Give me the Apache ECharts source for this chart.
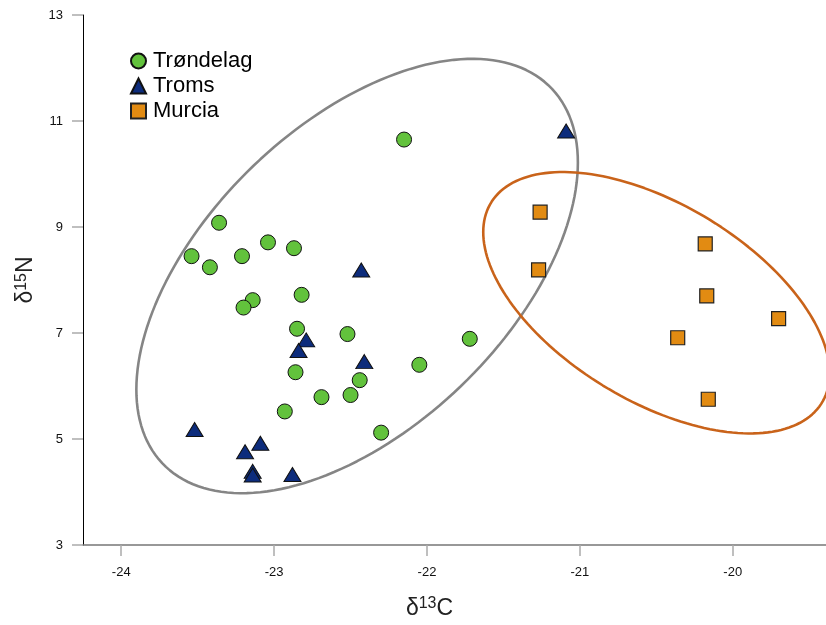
<!DOCTYPE html>
<html>
<head>
<meta charset="utf-8">
<script src="https://cdn.jsdelivr.net/npm/echarts@6/dist/echarts.min.js"></script>
<style>
html,body{margin:0;padding:0;background:#fff;}
#chart{width:826px;height:625px;}
</style>
</head>
<body>
<div id="chart"></div>
<script>
// ---- data ----
var seriesNames = ['Trøndelag', 'Troms', 'Murcia'];
var xTicks = [-24, -23, -22, -21, -20];
var yTicks = [3, 5, 7, 9, 11, 13];

var trondelagX = [-23.36, -23.54, -23.42, -23.21, -23.04, -22.87, -22.82, -23.14, -23.20, -22.85,
                  -22.52, -22.86, -22.44, -22.50, -22.69, -22.93, -22.30, -22.15, -22.05, -21.72];
var trondelagY = [9.08, 8.45, 8.24, 8.45, 8.71, 8.60, 7.72, 7.62, 7.48, 7.08,
                  6.98, 6.26, 6.11, 5.83, 5.79, 5.52, 5.12, 10.65, 6.40, 6.89];

var tromsX = [-22.43, -22.79, -22.84, -22.41, -23.52, -23.09, -23.19, -23.14, -23.14, -22.88, -21.09];
var tromsY = [8.19, 6.87, 6.67, 6.46, 5.18, 4.92, 4.76, 4.39, 4.32, 4.33, 10.81];

var murciaX = [-21.26, -21.27, -20.18, -20.17, -19.70, -20.36, -20.16];
var murciaY = [9.28, 8.19, 8.68, 7.70, 7.27, 6.91, 5.75];

// ellipse parameters: centre x, centre y, x half-range, y half-range, phase (degrees)
var ellipseGray = [-22.457, 8.075, 1.444, 4.098, 58.5];
var ellipseOrange = [-20.499, 7.571, 1.133, 2.466, 122.7];

// ---- helpers ----
function pairs(xs, ys) {
  return xs.map(function (x, i) { return [x, ys[i]]; });
}
function ellipsePoints(p) {
  var pts = [], n = 180, phi = p[4] * Math.PI / 180;
  for (var i = 0; i <= n; i++) {
    var t = 2 * Math.PI * i / n;
    pts.push([p[0] + p[2] * Math.cos(t), p[1] + p[3] * Math.cos(t - phi)]);
  }
  return pts;
}

var chart = echarts.init(document.getElementById('chart'), null, {renderer: 'canvas'});
var font = 'Liberation Sans, Arial, Helvetica, sans-serif';

var option = {
  backgroundColor: '#ffffff',
  animation: false,
  textStyle: {fontFamily: font},
  grid: {left: 83, right: 0, top: 15, bottom: 79, containLabel: false},
  legend: {
    data: seriesNames,
    orient: 'vertical',
    left: 130,
    top: 50,
    padding: 0,
    itemWidth: 15,
    itemHeight: 15,
    itemGap: 3,
    textStyle: {fontSize: 22, color: '#000', fontFamily: font, padding: [0, 0, 0, 2]}
  },
  xAxis: {
    type: 'value',
    min: -24.25,
    max: -19.39,
    name: '{n|δ}{s|13}{n|C}',
    nameLocation: 'middle',
    nameGap: 51,
    nameTextStyle: {
      padding: [0, 50, 0, 0],
      rich: {
        n: {fontSize: 23, color: '#222', fontFamily: font},
        s: {fontSize: 16, color: '#222', fontFamily: font, padding: [0, 0, 9, 0]}
      }
    },
    axisLine: {show: true, onZero: false, lineStyle: {color: '#777', width: 1.5}},
    axisTick: {show: true, length: 11, customValues: xTicks, lineStyle: {color: '#aaa', width: 1.5}},
    axisLabel: {customValues: xTicks, margin: 21, fontSize: 13, color: '#111', fontFamily: font},
    splitLine: {show: false}
  },
  yAxis: {
    type: 'value',
    min: 3,
    max: 13,
    interval: 2,
    name: '{n|δ}{s|15}{n|N}',
    nameLocation: 'middle',
    nameGap: 42,
    nameRotate: 90,
    nameTextStyle: {
      rich: {
        n: {fontSize: 23, color: '#222', fontFamily: font},
        s: {fontSize: 16, color: '#222', fontFamily: font, padding: [0, 0, 9, 0]}
      }
    },
    axisLine: {show: true, onZero: false, lineStyle: {color: '#000', width: 1}},
    axisTick: {show: true, length: 11, lineStyle: {color: '#aaa', width: 1.5}},
    axisLabel: {margin: 20, fontSize: 13, color: '#111', fontFamily: font},
    splitLine: {show: false}
  },
  series: [
    {
      name: 'ellipseGray', type: 'line', data: ellipsePoints(ellipseGray),
      showSymbol: false, symbol: 'none', smooth: false, z: 1, silent: true,
      lineStyle: {color: '#858585', width: 2.6}
    },
    {
      name: 'ellipseOrange', type: 'line', data: ellipsePoints(ellipseOrange),
      showSymbol: false, symbol: 'none', smooth: false, z: 1, silent: true,
      lineStyle: {color: '#c9631a', width: 2.6}
    },
    {
      name: seriesNames[0], type: 'scatter', data: pairs(trondelagX, trondelagY), z: 3,
      symbol: 'circle', symbolSize: 15,
      itemStyle: {color: '#62c23c', borderColor: '#111', borderWidth: 1, opacity: 1}
    },
    {
      name: seriesNames[1], type: 'scatter', data: pairs(tromsX, tromsY), z: 3,
      symbol: 'triangle', symbolSize: [17, 14],
      itemStyle: {color: '#0d2c7c', borderColor: '#111', borderWidth: 1, opacity: 1}
    },
    {
      name: seriesNames[2], type: 'scatter', data: pairs(murciaX, murciaY), z: 3,
      symbol: 'rect', symbolSize: 14,
      itemStyle: {color: '#e28b12', borderColor: '#222', borderWidth: 1.2, opacity: 1}
    }
  ]
};
chart.setOption(option);
</script>
</body>
</html>
